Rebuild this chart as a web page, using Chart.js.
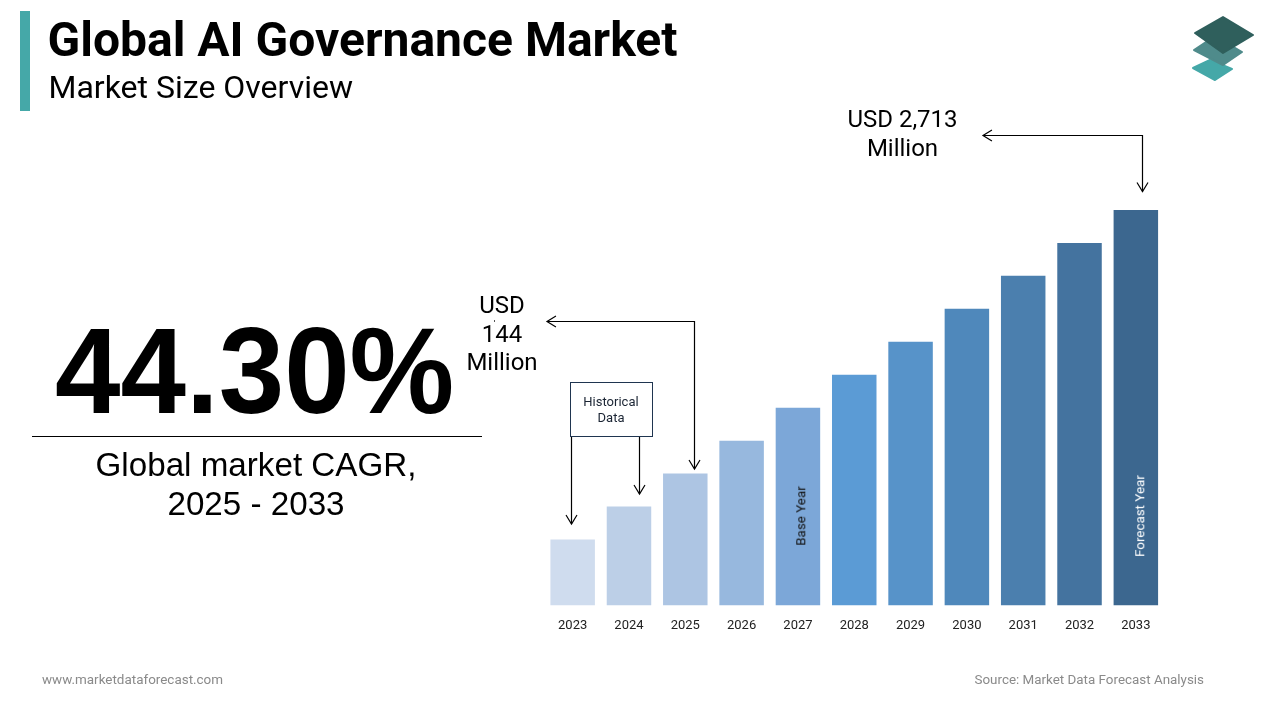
<!DOCTYPE html>
<html>
<head>
<meta charset="utf-8">
<title>Global AI Governance Market</title>
<script src="https://cdn.jsdelivr.net/npm/chart.js@4"></script>
<style>
html, body { margin: 0; padding: 0; background: #fff; }
#page { position: relative; width: 1280px; height: 720px; overflow: hidden; font-family: Roboto, sans-serif; color: #000; }
#page canvas { position: absolute; left: 0; top: 0; }
.t { position: absolute; white-space: nowrap; line-height: 1; }
.c { text-align: center; }
#bar { position: absolute; left: 20px; top: 11px; width: 10px; height: 100px; background: #45a8a8; }
#logo { position: absolute; left: 1185px; top: 10px; }
</style>
</head>
<body>
<div id="page">
	<canvas id="myChart" width="1280" height="720"></canvas>
	<div id="bar"></div>
	<div class="t" style="left:47.5px;top:16px;font-size:48px;font-weight:700">Global AI Governance Market</div>
	<div class="t" style="left:48.5px;top:71px;font-size:32px">Market Size Overview</div>
	<div class="t" style="left:55px;top:310px;font-size:122px;font-weight:700;transform:scaleX(0.965);transform-origin:left center;font-family:'Liberation Sans'">44.30%</div>
	<div style="position:absolute;left:32px;top:436px;width:450px;height:1px;background:#000"></div>
	<div class="t c" style="left:32px;width:448px;top:445px;font-size:33.2px;line-height:39px;font-family:'Liberation Sans'">Global market CAGR,<br>2025 - 2033</div>
	<div class="t c" style="left:802.5px;width:200px;top:105px;font-size:24px;line-height:29px">USD 2,713<br>Million</div>
	<div class="t c" style="left:442px;width:120px;top:291px;font-size:24px;line-height:28.5px">USD<br>144<br>Million</div>
	<div style="position:absolute;left:494px;top:320px;width:1px;height:2px;background:#555"></div>
	<div class="t c" style="left:570px;top:382px;width:81px;height:53px;border:1px solid #1f3550;font-size:13px;line-height:16px;color:#1a2433"><div style="margin-top:11px;margin-right:1px">Historical<br>Data</div></div>
	<div class="t" style="left:801px;top:516px;font-size:13.4px;color:#111;transform:translate(-50%,-50%) rotate(-90deg)">Base Year</div>
	<div class="t" style="left:1140px;top:516px;font-size:13.4px;color:#fff;transform:translate(-50%,-50%) rotate(-90deg)">Forecast Year</div>
	<div class="t" style="left:42px;top:673px;font-size:13.45px;color:#8a8a8a">www.marketdataforecast.com</div>
	<div class="t" style="right:76px;top:673px;font-size:13.4px;color:#8a8a8a">Source: Market Data Forecast Analysis</div>
	<svg id="logo" width="76" height="76" viewBox="0 0 76 76">
		<path d="M25 50 L47 59 L30 70 L8 58 Z" fill="#45a8a8" stroke="#45a8a8" stroke-width="2" stroke-linejoin="round"/>
		<path d="M30 26 L57 42 L38 55 L9 40 Z" fill="#4f8b8b" stroke="#4f8b8b" stroke-width="2" stroke-linejoin="round"/>
		<path d="M38 7 L68 25 L38 43 L10 23 Z" fill="#2f5f5c" stroke="#2f5f5c" stroke-width="2" stroke-linejoin="round"/>
	</svg>
</div>
<script>
(() => {
	"use strict";

	// Bar heights (the source bars are not to scale)
	const years = ["2023", "2024", "2025", "2026", "2027", "2028", "2029", "2030", "2031", "2032", "2033"];
	const barValues = [66, 99, 132, 165, 198, 231, 264, 297, 330, 363, 396];
	const barColors = ["#cfdcee", "#bccfe7", "#adc5e3", "#97b8de", "#7ca7d8", "#5b9bd5", "#5793c9", "#4f88bb", "#4b7fae", "#44739f", "#3c678f"];

	// Callout arrows in page pixels, a head on the first point and on any bent line's last point
	const arrows = [
		[[1142.5, 191.5], [1142.5, 135.5], [983, 135.5]],
		[[694.5, 469], [694.5, 321.5], [547, 321.5]],
		[[639.5, 494], [639.5, 437]],
		[[571.5, 524], [571.5, 437]],
	];

	function drawHead(c, from, to) {
		const a = Math.atan2(to[1] - from[1], to[0] - from[0]);
		const s = 10.5;
		c.beginPath();
		c.moveTo(to[0] - s * Math.cos(a - 0.55), to[1] - s * Math.sin(a - 0.55));
		c.lineTo(to[0], to[1]);
		c.lineTo(to[0] - s * Math.cos(a + 0.55), to[1] - s * Math.sin(a + 0.55));
		c.stroke();
	}

	const arrowPlugin = {
		id: "arrows",
		afterDraw(chart) {
			const c = chart.ctx;
			c.save();
			c.strokeStyle = "#000";
			c.lineWidth = 1.2;
			arrows.forEach((pts) => {
				c.beginPath();
				pts.forEach((p, i) => (i ? c.lineTo(p[0], p[1]) : c.moveTo(p[0], p[1])));
				c.stroke();
				drawHead(c, pts[1], pts[0]);
				if (pts.length > 2) drawHead(c, pts[1], pts[2]);
			});
			c.restore();
		},
	};

	const ctx = document.getElementById("myChart");
	// eslint-disable-next-line no-unused-vars
	const myChart = new Chart(ctx, {
		type: "bar",
		data: {
			labels: years,
			datasets: [
				{
					data: barValues,
					backgroundColor: barColors,
					categoryPercentage: 1,
					barPercentage: 0.79,
				},
			],
		},
		plugins: [arrowPlugin],
		options: {
			responsive: false,
			animation: false,
			layout: {
				padding: { left: 544.5, right: 116, top: 166, bottom: 73 },
			},
			plugins: {
				legend: { display: false },
				tooltip: { enabled: false },
			},
			scales: {
				x: {
					border: { display: false },
					grid: { display: false, drawTicks: false },
					ticks: {
						color: "#222",
						font: { family: "Roboto", size: 13 },
						padding: 13,
						maxRotation: 0,
						autoSkip: false,
					},
				},
				y: {
					display: false,
					min: 0,
					max: 440,
				},
			},
		},
	});
})();
</script>
</body>
</html>
